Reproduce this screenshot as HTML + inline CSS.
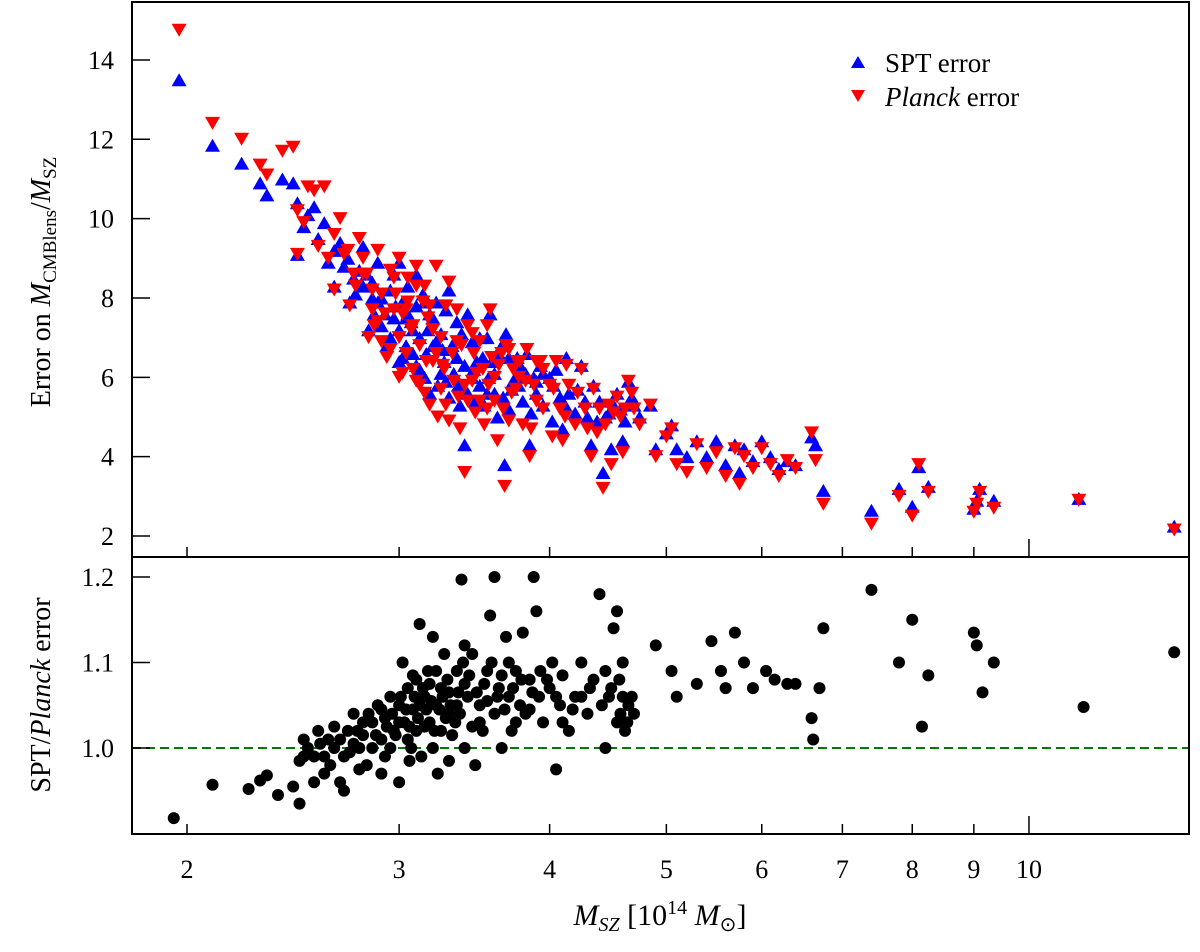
<!DOCTYPE html>
<html><head><meta charset="utf-8"><style>
body{margin:0;background:#fff}
svg{display:block}
text{font-family:"Liberation Serif",serif;fill:#000}
</style></head><body>
<svg id="chart" width="1200" height="952" viewBox="0 0 1200 952">
<g id="top-marks"></g>
<g id="bot-marks"></g>
<g id="axes"></g>
<g>
<polygon points="851,68 865,68 858,56" fill="#0000ff"/>
<text x="885" y="72" font-size="27">SPT error</text>
<polygon points="851,90 865,90 858,102" fill="#ff0000"/>
<text x="885" y="106" font-size="27"><tspan font-style="italic">Planck</tspan> error</text>
</g>
<text transform="translate(50,282) rotate(-90)" text-anchor="middle" font-size="28">Error on <tspan font-style="italic">M</tspan><tspan font-size="19" dy="6">CMBlens</tspan><tspan dy="-6">/</tspan><tspan font-style="italic">M</tspan><tspan font-size="19" dy="6">SZ</tspan></text>
<text transform="translate(50,695) rotate(-90)" text-anchor="middle" font-size="28">SPT/<tspan font-style="italic">Planck</tspan> error</text>
<text x="660" y="925" text-anchor="middle" font-size="30"><tspan font-style="italic">M</tspan><tspan font-size="20" font-style="italic" dy="6">SZ</tspan><tspan dy="-6"> [10</tspan><tspan font-size="20" dy="-11">14</tspan><tspan dy="11"> </tspan><tspan font-style="italic">M</tspan><tspan font-size="20" dy="6">⊙</tspan><tspan dy="-6">]</tspan></text>
</svg>
<script>
const topData=[
[1.97,13.5,14.75],[2.1,11.85,12.4],[2.22,11.4,12.0],[2.3,10.9,11.35],[2.33,10.6,11.1],[2.4,11.0,11.7],[2.45,10.9,11.8],[2.47,10.4,10.2],[2.47,9.1,9.1],[2.5,9.8,9.9],
[2.52,10.1,10.8],[2.55,10.3,10.7],[2.57,9.5,9.3],[2.6,9.9,10.8],[2.62,8.9,9.0],[2.65,9.2,9.6],[2.65,8.3,8.2],[2.7,8.8,9.1],[2.72,9.0,9.2],[2.75,8.5,8.6],
[2.76,8.1,8.3],[2.78,8.7,9.5],[2.8,9.3,9.0],[2.82,8.6,8.6],[2.85,8.0,7.7],[2.86,7.6,7.3],[2.88,8.9,9.2],[2.9,8.0,8.1],[2.9,7.3,6.9],[2.92,7.6,7.6],
[2.95,8.2,8.7],[2.97,7.5,7.7],[3.0,8.9,9.0],[3.0,7.2,7.0],[3.02,7.9,7.6],[3.04,6.8,6.6],[3.05,8.3,8.5],[3.07,7.4,7.2],[3.08,6.6,6.2],[3.1,7.8,8.3],
[3.1,6.3,5.9],[3.12,7.0,6.8],[3.14,8.1,7.9],[3.15,6.0,5.6],[3.17,7.2,7.5],[3.18,5.6,5.3],[3.2,6.8,6.4],[3.22,7.9,8.8],[3.23,5.8,5.0],[3.25,7.1,7.0],
[3.27,6.4,6.2],[3.3,8.2,8.4],[3.3,5.5,4.9],[3.32,6.8,6.6],[3.35,7.4,7.7],[3.37,5.3,4.7],[3.4,6.3,5.8],[3.4,4.3,3.6],[3.42,7.6,7.3],[3.45,6.0,5.9],
[3.47,5.4,5.1],[3.5,7.0,6.9],[3.52,6.5,6.2],[3.55,5.6,5.2],[3.57,7.6,7.7],[3.6,6.1,6.0],[3.62,5.0,4.4],[3.65,6.8,6.6],[3.67,3.8,3.25],[3.7,6.5,6.7],
[3.72,5.7,5.6],[3.75,6.0,5.7],[3.78,6.3,6.4],[3.8,5.4,4.8],[3.83,6.6,6.7],[3.85,4.3,4.0],[3.88,6.0,5.8],[3.9,5.9,6.4],[3.93,6.3,6.4],[3.95,5.3,5.2],
[4.0,6.0,5.8],[4.02,4.9,4.5],[4.05,6.2,6.4],[4.08,5.5,5.2],[4.1,4.7,4.4],[4.13,6.5,6.3],[4.15,5.6,5.8],[4.2,5.1,4.8],[4.25,6.3,6.2],[4.3,5.0,4.7],
[4.33,4.3,4.0],[4.35,5.8,5.7],[4.4,5.4,5.2],[4.43,3.6,3.2],[4.45,5.0,4.8],[4.5,4.2,3.8],[4.52,5.3,5.1],[4.55,5.6,5.5],[4.6,4.4,4.1],[4.62,4.9,5.2],
[4.65,5.9,5.9],[4.7,5.3,5.2],[4.85,5.3,5.3],[4.9,4.2,4.0],[5.0,4.6,4.5],[5.05,4.8,4.7],[5.1,4.2,3.8],[5.2,4.0,3.6],[5.3,4.4,4.3],[5.4,4.0,3.7],
[5.5,4.4,4.1],[5.6,3.8,3.5],[5.7,4.3,4.2],[5.75,3.6,3.3],[5.8,4.2,4.0],[5.9,3.9,3.7],[6.0,4.4,4.2],[6.1,4.0,3.8],[6.2,3.7,3.5],[6.3,3.9,3.9],
[6.4,3.8,3.7],[6.6,4.5,4.6],[6.65,4.3,3.9],[6.75,3.15,2.8],[7.4,2.65,2.3],[7.8,3.2,3.0],[8.0,2.75,2.5],[8.1,3.75,3.8],[8.25,3.25,3.1],[9.0,2.7,2.6],
[9.05,2.9,2.8],[9.1,3.2,3.1],[9.35,2.9,2.7],[11.0,2.95,2.9],[13.2,2.25,2.15],
[2.68,9.4,10.0],[2.73,7.9,7.8],[2.8,8.3,8.6],[2.83,7.2,7.0],[2.93,6.8,6.5],[2.97,8.6,8.5],[3.05,7.6,7.9],[3.1,8.6,8.8],[3.16,6.6,6.4],[3.2,7.5,7.2],
[3.25,6.1,5.7],[3.28,7.7,7.8],[3.35,6.5,6.9],[3.45,6.9,7.1],[3.5,5.8,5.4],[3.55,7.0,7.3],[3.58,6.4,6.5],[3.68,7.1,6.8],[3.73,5.9,6.2],[3.9,5.6,5.4],
[2.85,8.4,8.2],[2.88,7.9,7.4],[2.95,7.0,6.7],[3.02,6.5,6.1],[3.08,7.2,7.3],[3.12,6.2,5.8],[3.18,7.6,7.8],[3.22,6.9,6.6],[3.28,5.9,5.3],[3.33,6.1,5.9],
[3.38,7.1,6.8],[3.42,5.6,5.4],[3.48,6.4,6.1],[3.53,5.3,4.8],[3.6,5.6,5.4],[3.63,6.6,6.3],[3.7,5.2,4.9],[3.77,5.8,6.0],[3.82,6.1,5.9],[3.95,6.1,6.2],
[4.03,5.8,5.7],[4.12,5.3,5.0],[4.22,5.7,5.6],[4.28,5.4,5.2],[4.38,4.9,4.6],[4.48,5.1,5.3],[4.58,5.2,5.0],[4.68,5.5,5.6],[4.75,5.0,4.8],[3.15,7.9,8.3],
[3.26,6.7,6.3],[3.36,5.8,5.5],[3.46,6.2,6.6],[3.56,6.0,5.8],[3.66,5.5,5.2],[3.76,6.5,6.4],[3.86,5.1,4.7],[2.98,7.8,8.1],[3.0,6.4,6.0],[3.04,7.5,7.7]
];
const ratioData=[
[1.95,0.918],[2.1,0.957],[2.25,0.952],[2.3,0.962],[2.33,0.968],[2.38,0.945],[2.45,0.955],[2.48,0.935],[2.48,0.985],[2.5,0.99],
[2.5,1.01],[2.52,1.0],[2.55,0.96],[2.57,1.02],[2.6,0.97],[2.6,0.99],[2.62,1.01],[2.65,1.0],[2.65,1.025],[2.7,0.95],
[2.7,0.99],[2.72,1.02],[2.75,1.04],[2.78,1.0],[2.8,1.015],[2.82,0.98],[2.85,1.03],[2.88,1.05],[2.9,0.97],[2.9,1.01],
[2.92,1.035],[2.95,1.06],[2.95,1.0],[2.97,1.02],[3.0,1.05],[3.0,0.96],[3.02,1.1],[3.03,1.03],[3.05,1.07],[3.07,1.0],
[3.08,1.045],[3.1,1.08],[3.1,1.02],[3.12,1.145],[3.13,0.99],[3.15,1.06],[3.17,1.09],[3.18,1.03],[3.2,1.13],[3.2,1.0],
[3.22,1.05],[3.23,0.97],[3.25,1.07],[3.27,1.11],[3.28,1.035],[3.3,0.985],[3.3,1.065],[3.32,1.015],[3.35,1.09],[3.37,1.04],
[3.38,1.197],[3.4,1.0],[3.4,1.12],[3.42,1.06],[3.45,1.11],[3.47,0.98],[3.5,1.05],[3.52,1.02],[3.55,1.09],[3.57,1.155],
[3.6,1.2],[3.6,1.04],[3.63,1.07],[3.65,1.0],[3.68,1.13],[3.7,1.06],[3.72,1.02],[3.75,1.09],[3.78,1.05],[3.8,1.135],
[3.82,1.04],[3.85,1.08],[3.88,1.2],[3.9,1.16],[3.92,1.06],[3.95,1.03],[4.0,1.07],[4.02,1.1],[4.05,0.975],[4.08,1.05],
[4.1,1.085],[4.15,1.02],[4.2,1.06],[4.25,1.1],[4.3,1.04],[4.35,1.08],[4.4,1.18],[4.42,1.05],[4.45,1.0],[4.5,1.07],
[4.52,1.14],[4.55,1.16],[4.58,1.04],[4.6,1.06],[4.62,1.02],[4.65,1.05],[4.7,1.04],[4.9,1.12],[5.05,1.09],[5.1,1.06],
[5.3,1.075],[5.45,1.125],[5.55,1.09],[5.6,1.07],[5.7,1.135],[5.8,1.1],[5.9,1.07],[6.05,1.09],[6.15,1.08],[6.3,1.075],
[6.4,1.075],[6.6,1.035],[6.62,1.01],[6.7,1.07],[6.75,1.14],[7.4,1.185],[7.8,1.1],[8.0,1.15],[8.15,1.025],[8.25,1.085],
[9.0,1.135],[9.05,1.12],[9.15,1.065],[9.35,1.1],[11.1,1.048],[13.2,1.112],
[2.85,1.0],[2.9,1.045],[2.98,1.015],[3.05,1.01],[3.12,1.05],[3.15,1.025],[3.18,1.075],[3.25,1.02],[3.3,1.04],[3.35,1.05],
[3.0,1.03],[3.08,1.085],[3.22,1.09],[3.4,1.075],[3.45,1.025],[2.75,1.005],[2.8,1.03],[3.55,1.055],[3.65,1.085],[3.75,1.03],
[3.85,1.045],[4.1,1.03],[4.25,1.06],[4.45,1.09],[4.55,1.03],[4.6,1.1],
[2.55,0.99],[2.58,1.005],[2.63,0.98],[2.68,1.01],[2.73,0.995],[2.77,1.02],[2.83,1.04],[2.87,1.015],[2.93,1.025],[2.96,1.04],
[3.01,1.06],[3.04,1.045],[3.06,1.025],[3.09,1.06],[3.11,1.035],[3.14,1.07],[3.16,1.045],[3.19,1.055],[3.21,1.02],[3.24,1.045],
[3.26,1.06],[3.29,1.08],[3.31,1.05],[3.34,1.03],[3.36,1.065],[3.39,1.1],[3.43,1.085],[3.48,1.065],[3.53,1.075],[3.58,1.1],
[3.62,1.06],[3.67,1.045],[3.73,1.07],[3.79,1.08],[3.87,1.065],[3.98,1.08],[4.05,1.06],[4.18,1.045],[4.32,1.07],[4.48,1.06],
[4.57,1.08],[4.64,1.03],[4.68,1.06],[3.5,1.03],[3.7,1.1],[3.93,1.09],[2.92,0.99],[3.06,0.985],[2.68,0.96],[2.78,0.975]
];
const xTicks=[2,3,4,5,6,7,8,9,10];
const topYTicks=[2,4,6,8,10,12,14];
const botYTicks=[1.0,1.1,1.2];

const NS='http://www.w3.org/2000/svg';
const L=132,R=1189,T=2,MID=557,B=834;
function xs(m){return 187+(Math.log10(m)-Math.log10(2))*1204.6;}
function ysTop(v){return 536-(v-2)*39.67;}
function ysBot(v){return 748-(v-1.0)*855;}
function el(tag,attrs,parent){const e=document.createElementNS(NS,tag);for(const k in attrs)e.setAttribute(k,attrs[k]);parent.appendChild(e);return e;}

const topG=document.getElementById('top-marks');
topData.forEach(d=>{
  const x=xs(d[0]),y=ysTop(d[1]);
  const p=el('polygon',{points:`${x-7.5},${y+6.5} ${x+7.5},${y+6.5} ${x},${y-6.5}`,fill:'#0000ff'},topG);
  
  
});
topData.forEach(d=>{
  const x=xs(d[0]),y=ysTop(d[2]);
  const p=el('polygon',{points:`${x-7.5},${y-6.5} ${x+7.5},${y-6.5} ${x},${y+6.5}`,fill:'#ff0000'},topG);
  
  
});
const botG=document.getElementById('bot-marks');
const ref=el('line',{x1:L,x2:R,y1:ysBot(1.0),y2:ysBot(1.0),stroke:'#007a00','stroke-width':2,'stroke-dasharray':'9,5'},botG);


ratioData.forEach(d=>{
  const c=el('circle',{cx:xs(d[0]),cy:ysBot(d[1]),r:6,fill:'#000'},botG);
  
  
});

const ax=document.getElementById('axes');
const f1=el('rect',{x:L,y:T,width:R-L,height:MID-T,fill:'none',stroke:'#000','stroke-width':2},ax);


const f2=el('rect',{x:L,y:MID,width:R-L,height:B-MID,fill:'none',stroke:'#000','stroke-width':2},ax);


xTicks.forEach(t=>{
  const x=xs(t),len=t===10?18:10;
  el('line',{x1:x,x2:x,y1:B,y2:B-len,stroke:'#000','stroke-width':1.5},ax);
  el('line',{x1:x,x2:x,y1:MID,y2:MID-len,stroke:'#000','stroke-width':1.5},ax);
  const tx=el('text',{x:x,y:878,'text-anchor':'middle','font-size':26},ax);
  tx.textContent=String(t);
  
  
});
topYTicks.forEach(t=>{
  const y=ysTop(t);
  el('line',{x1:L,x2:L+18,y1:y,y2:y,stroke:'#000','stroke-width':1.5},ax);
  const tx=el('text',{x:114,y:y+9,'text-anchor':'end','font-size':26},ax);
  tx.textContent=String(t);
  
  
});
botYTicks.forEach(t=>{
  const y=ysBot(t);
  el('line',{x1:L,x2:L+18,y1:y,y2:y,stroke:'#000','stroke-width':1.5},ax);
  const tx=el('text',{x:114,y:y+9,'text-anchor':'end','font-size':26},ax);
  tx.textContent=t.toFixed(1);
  
  
});
</script>
</body></html>
